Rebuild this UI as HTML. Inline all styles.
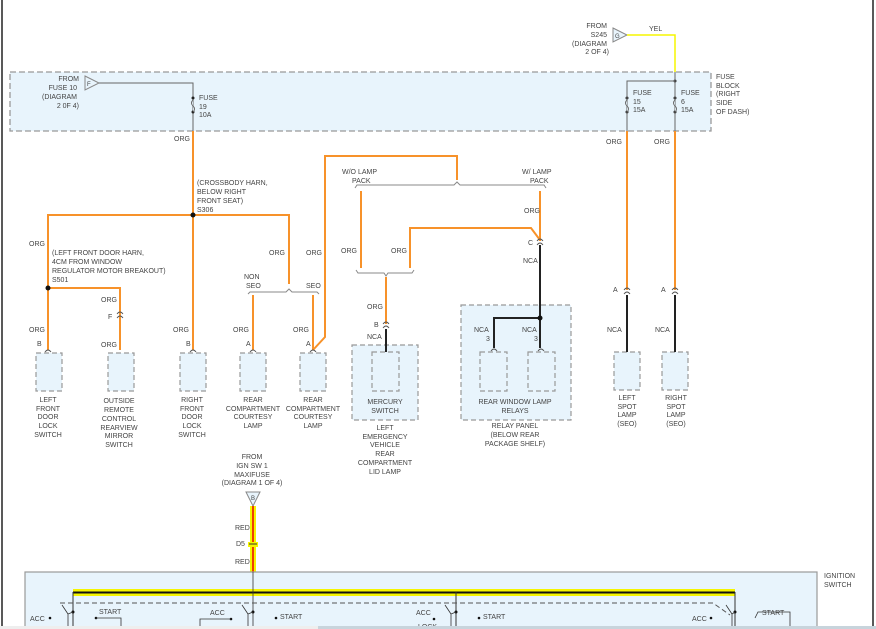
<!DOCTYPE html>
<html><head><meta charset="utf-8"><style>
html,body{margin:0;padding:0;background:#fff;}
svg{display:block;}
text{font-family:"Liberation Sans",sans-serif;font-size:7px;fill:#444;}
</style></head><body>
<svg width="876" height="629" viewBox="0 0 876 629" xmlns="http://www.w3.org/2000/svg">
<rect width="876" height="629" fill="#fff"/>
<line x1="2" y1="0" x2="2" y2="629" stroke="#222" stroke-width="1.5"/>
<line x1="873" y1="0" x2="873" y2="629" stroke="#222" stroke-width="1.5"/>

<!-- fuse block -->
<rect x="10" y="72" width="701" height="59" fill="#e8f4fc" stroke="#999" stroke-width="1.3" stroke-dasharray="6,3"/>
<text x="716" y="79">FUSE</text><text x="716" y="88">BLOCK</text><text x="716" y="96">(RIGHT</text><text x="716" y="105">SIDE</text><text x="716" y="114">OF DASH)</text>
<polygon points="85,76 99,83 85,90" fill="#e8f4fc" stroke="#888"/>
<text x="87" y="86" style="font-size:6px">F</text>
<text x="79" y="81" text-anchor="end">FROM</text><text x="77" y="90" text-anchor="end">FUSE 10</text><text x="77" y="99" text-anchor="end">(DIAGRAM</text><text x="79" y="108" text-anchor="end">2 0F 4)</text>
<polyline points="99,83 193,83 193,131" fill="none" stroke="#666"/>
<g fill="#222"><circle cx="193" cy="98" r="1.5"/><circle cx="193" cy="112" r="1.5"/><circle cx="627" cy="98" r="1.5"/><circle cx="627" cy="112" r="1.5"/><circle cx="675" cy="98" r="1.5"/><circle cx="675" cy="112" r="1.5"/><circle cx="675" cy="81" r="1.5"/></g>
<path d="M193 100 q-3 3 0 6 q3 3 0 6" fill="#e8f4fc" stroke="#666"/>
<text x="199" y="100">FUSE</text><text x="199" y="109">19</text><text x="199" y="117">10A</text>

<polygon points="613,28 627,35 613,42" fill="#e8f4fc" stroke="#888"/>
<text x="615" y="38" style="font-size:6px">G</text>
<text x="607" y="28" text-anchor="end">FROM</text><text x="607" y="37" text-anchor="end">S245</text><text x="607" y="46" text-anchor="end">(DIAGRAM</text><text x="609" y="54" text-anchor="end">2 OF 4)</text>
<text x="649" y="31">YEL</text>
<polyline points="627,35 675,35 675,72" fill="none" stroke="#f5f500" stroke-width="1.5"/>
<polyline points="675,72 675,131" fill="none" stroke="#666"/>
<polyline points="675,81 627,81 627,131" fill="none" stroke="#666"/>
<path d="M627 100 q-3 3 0 6 q3 3 0 6" fill="#e8f4fc" stroke="#666"/>
<path d="M675 100 q-3 3 0 6 q3 3 0 6" fill="#e8f4fc" stroke="#666"/>
<text x="633" y="95">FUSE</text><text x="633" y="104">15</text><text x="633" y="112">15A</text>
<text x="681" y="95">FUSE</text><text x="681" y="104">6</text><text x="681" y="112">15A</text>

<!-- boxes (drawn first so wires show on top) -->
<g fill="#e8f4fc" stroke="#999" stroke-width="1.2" stroke-dasharray="5,3">
<rect x="352" y="345" width="66" height="75"/>
<rect x="461" y="305" width="110" height="115"/>
<rect x="36" y="353" width="26" height="38"/>
<rect x="108" y="353" width="26" height="38"/>
<rect x="180" y="353" width="26" height="38"/>
<rect x="240" y="353" width="26" height="38"/>
<rect x="300" y="353" width="26" height="38"/>
<rect x="372" y="352" width="27" height="39"/>
<rect x="480" y="352" width="27" height="39"/>
<rect x="528" y="352" width="27" height="39"/>
<rect x="614" y="352" width="26" height="38"/>
<rect x="662" y="352" width="26" height="38"/>
</g>

<!-- orange wires -->
<g fill="none" stroke="#f7922a" stroke-width="2">
<line x1="193" y1="131" x2="193" y2="350"/>
<polyline points="48,350 48,215 289,215 289,284"/>
<polyline points="48,288 120,288 120,350"/>
<line x1="253" y1="295" x2="253" y2="350"/>
<line x1="313" y1="295" x2="313" y2="350"/>
<polyline points="313,350 325,337 325,156 457,156 457,180"/>
<line x1="361" y1="191" x2="361" y2="268"/>
<line x1="540" y1="191" x2="540" y2="241"/>
<polyline points="410,268 410,228 531,228 540,240"/>
<line x1="386" y1="277" x2="386" y2="324"/>
<line x1="627" y1="131" x2="627" y2="290"/>
<line x1="675" y1="131" x2="675" y2="290"/>
</g>
<!-- black wires -->
<g fill="none" stroke="#222" stroke-width="2">
<line x1="540" y1="245" x2="540" y2="348"/>
<polyline points="540,318 494,318 494,348"/>
<line x1="386" y1="329" x2="386" y2="352"/>
<line x1="627" y1="295" x2="627" y2="352"/>
<line x1="675" y1="295" x2="675" y2="352"/>
</g>
<g fill="#111"><circle cx="193" cy="215" r="2.5"/><circle cx="48" cy="288" r="2.5"/><circle cx="540" cy="318" r="2.5"/></g>
<!-- braces -->
<g fill="none" stroke="#888">
<path d="M248 294 l2 -2 h36 l3 -3 l3 3 h25 l2 2"/>
<path d="M355 188 l2 -3 h97 l3 -3 l3 3 h84 l2 3"/>
<path d="M356 270 l2 3 h26 l2 3 l2 -3 h24 l2 -3"/>
</g>
<!-- connectors -->
<g fill="none" stroke="#555" stroke-width="0.9">
<path d="M45 352 q3 -4 6 0"/><path d="M190 352 q3 -4 6 0"/><path d="M250 352 q3 -4 6 0"/><path d="M310 352 q3 -4 6 0"/>
<path d="M117 314 q3 -4 6 0 M117 318 q3 -4 6 0"/>
<path d="M537 241 q3 -4 6 0 M537 245 q3 -4 6 0"/>
<path d="M383 324 q3 -4 6 0 M383 328 q3 -4 6 0"/>
<path d="M624 290 q3 -4 6 0 M624 294 q3 -4 6 0"/>
<path d="M672 290 q3 -4 6 0 M672 294 q3 -4 6 0"/>
<path d="M491 351 q3 -4 6 0"/><path d="M538 351 q3 -4 6 0"/>
</g>

<!-- labels -->
<text x="174" y="141">ORG</text>
<text x="197" y="185">(CROSSBODY HARN,</text><text x="197" y="194">BELOW RIGHT</text><text x="197" y="203">FRONT SEAT)</text><text x="197" y="212">S306</text>
<text x="29" y="246">ORG</text>
<text x="52" y="255">(LEFT FRONT DOOR HARN,</text><text x="52" y="264">4CM FROM WINDOW</text><text x="52" y="273">REGULATOR MOTOR BREAKOUT)</text><text x="52" y="282">S501</text>
<text x="101" y="302">ORG</text><text x="108" y="319">F</text><text x="101" y="347">ORG</text>
<text x="29" y="332">ORG</text><text x="37" y="346">B</text>
<text x="173" y="332">ORG</text><text x="186" y="346">B</text>
<text x="233" y="332">ORG</text><text x="246" y="346">A</text>
<text x="293" y="332">ORG</text><text x="306" y="346">A</text>
<text x="269" y="255">ORG</text><text x="306" y="255">ORG</text>
<text x="244" y="279">NON</text><text x="246" y="288">SEO</text><text x="306" y="288">SEO</text>
<text x="342" y="174">W/O LAMP</text><text x="352" y="183">PACK</text>
<text x="522" y="174">W/ LAMP</text><text x="530" y="183">PACK</text>
<text x="341" y="253">ORG</text><text x="391" y="253">ORG</text><text x="524" y="213">ORG</text>
<text x="367" y="309">ORG</text><text x="374" y="327">B</text><text x="367" y="339">NCA</text>
<text x="528" y="245">C</text><text x="523" y="263">NCA</text>
<text x="474" y="332">NCA</text><text x="522" y="332">NCA</text><text x="486" y="341">3</text><text x="534" y="341">3</text>
<text x="606" y="144">ORG</text><text x="654" y="144">ORG</text>
<text x="613" y="292">A</text><text x="661" y="292">A</text>
<text x="607" y="332">NCA</text><text x="655" y="332">NCA</text>

<g text-anchor="middle">
<text x="48" y="402">LEFT</text><text x="48" y="411">FRONT</text><text x="48" y="419">DOOR</text><text x="48" y="428">LOCK</text><text x="48" y="437">SWITCH</text>
<text x="119" y="403">OUTSIDE</text><text x="119" y="412">REMOTE</text><text x="119" y="421">CONTROL</text><text x="119" y="430">REARVIEW</text><text x="119" y="438">MIRROR</text><text x="119" y="447">SWITCH</text>
<text x="192" y="402">RIGHT</text><text x="192" y="411">FRONT</text><text x="192" y="419">DOOR</text><text x="192" y="428">LOCK</text><text x="192" y="437">SWITCH</text>
<text x="253" y="402">REAR</text><text x="253" y="411">COMPARTMENT</text><text x="253" y="419">COURTESY</text><text x="253" y="428">LAMP</text>
<text x="313" y="402">REAR</text><text x="313" y="411">COMPARTMENT</text><text x="313" y="419">COURTESY</text><text x="313" y="428">LAMP</text>
<text x="385" y="404">MERCURY</text><text x="385" y="413">SWITCH</text>
<text x="385" y="430">LEFT</text><text x="385" y="439">EMERGENCY</text><text x="385" y="447">VEHICLE</text><text x="385" y="456">REAR</text><text x="385" y="465">COMPARTMENT</text><text x="385" y="474">LID LAMP</text>
<text x="515" y="404">REAR WINDOW LAMP</text><text x="515" y="413">RELAYS</text>
<text x="515" y="428">RELAY PANEL</text><text x="515" y="437">(BELOW REAR</text><text x="515" y="446">PACKAGE SHELF)</text>
<text x="627" y="400">LEFT</text><text x="627" y="409">SPOT</text><text x="627" y="417">LAMP</text><text x="627" y="426">(SEO)</text>
<text x="676" y="400">RIGHT</text><text x="676" y="409">SPOT</text><text x="676" y="417">LAMP</text><text x="676" y="426">(SEO)</text>
<text x="252" y="459">FROM</text><text x="252" y="468">IGN SW 1</text><text x="252" y="477">MAXIFUSE</text><text x="252" y="485">(DIAGRAM 1 OF 4)</text>
</g>

<!-- ignition feed -->
<polygon points="246,492 260,492 253,506" fill="#e8f4fc" stroke="#888"/>
<text x="251" y="500" style="font-size:6px">B</text>
<rect x="250" y="506" width="6" height="66" fill="#f5f500"/>
<line x1="253" y1="506" x2="253" y2="572" stroke="#e00" stroke-width="1.5"/>
<rect x="248" y="542" width="10" height="5" fill="#f5f500"/>
<line x1="249" y1="544" x2="257" y2="544" stroke="#333"/>
<text x="235" y="530">RED</text><text x="236" y="546">D5</text><text x="235" y="564">RED</text>

<!-- ignition switch -->
<rect x="25" y="572" width="792" height="60" fill="#e8f4fc" stroke="#999" stroke-width="1.2"/>
<text x="824" y="578">IGNITION</text><text x="824" y="587">SWITCH</text>
<rect x="73" y="589" width="662" height="7" fill="#f5f500"/>
<line x1="73" y1="592.5" x2="735" y2="592.5" stroke="#111" stroke-width="2"/>
<line x1="253" y1="572" x2="253" y2="632" stroke="#333" stroke-width="0.8"/>
<polyline points="73,592 73,632" fill="none" stroke="#333"/>
<line x1="456" y1="592" x2="456" y2="632" stroke="#333"/>
<line x1="735" y1="592" x2="735" y2="632" stroke="#333"/>
<polyline points="60,603 713,603 730,615" fill="none" stroke="#555" stroke-dasharray="5,3"/>
<g fill="#111"><circle cx="73" cy="612" r="1.5"/><circle cx="253" cy="612" r="1.5"/><circle cx="456" cy="612" r="1.5"/><circle cx="735" cy="612" r="1.5"/>
<circle cx="50" cy="618" r="1.3"/><circle cx="96" cy="618" r="1.3"/><circle cx="231" cy="619" r="1.3"/><circle cx="276" cy="618" r="1.3"/><circle cx="434" cy="619" r="1.3"/><circle cx="479" cy="618" r="1.3"/><circle cx="711" cy="618" r="1.3"/></g>
<g fill="none" stroke="#333" stroke-width="0.8">
<path d="M62 605 l6 9 M68 614 l5 -2 M68 614 l0 15"/>
<path d="M242 605 l6 9 M248 614 l5 -2 M248 614 l0 15"/>
<path d="M445 605 l6 9 M451 614 l5 -2 M451 614 l0 15"/>
<path d="M726 605 l6 9 M732 614 l3 -2 M732 614 l0 15"/>
<polyline points="96,618 121,618 121,629"/>
<polyline points="231,619 200,619 200,629"/>
<polyline points="755,618 758,612 790,612 790,629"/>
</g>
<text x="30" y="621">ACC</text><text x="99" y="614">START</text>
<text x="210" y="615">ACC</text><text x="280" y="619">START</text>
<text x="416" y="615">ACC</text><text x="483" y="619">START</text>
<text x="692" y="621">ACC</text><text x="762" y="615">START</text>
<text x="418" y="629">LOCK</text>
<rect x="0" y="626" width="318" height="3" fill="#eee"/>
<rect x="318" y="626" width="558" height="3" fill="#c8d4dc"/>
</svg>
</body></html>
